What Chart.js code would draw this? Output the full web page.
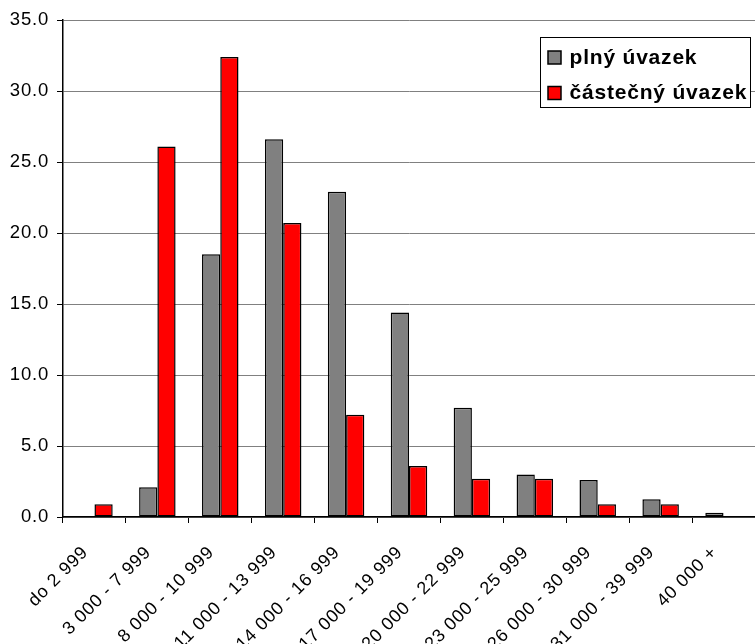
<!DOCTYPE html>
<html>
<head>
<meta charset="utf-8">
<script src="https://cdn.jsdelivr.net/npm/chart.js@4"></script>
<style>
  html, body { margin: 0; padding: 0; background: #fff; }
  canvas { display: block; }
</style>
</head>
<body>
<canvas id="mzdy" width="755" height="644"></canvas>
<script>
const categories = [
  "do 2 999", "3 000 - 7 999", "8 000 - 10 999", "11 000 - 13 999",
  "14 000 - 16 999", "17 000 - 19 999", "20 000 - 22 999", "23 000 - 25 999",
  "26 000 - 30 999", "31 000 - 39 999", "40 000 +"
];
const plnyUvazek = [0, 2.1, 18.5, 26.6, 22.9, 14.4, 7.7, 3.0, 2.6, 1.25, 0.3];
const castecnyUvazek = [0.9, 26.1, 32.4, 20.7, 7.2, 3.6, 2.7, 2.7, 0.9, 0.9, 0];
const seriesNames = ["plný úvazek", "částečný úvazek"];

const FONT = "'Liberation Sans', Arial, sans-serif";

// slightly looser text, set again before each layout (canvas resize resets it)
const spacing = {
  id: "spacing",
  beforeUpdate(chart) { chart.ctx.letterSpacing = "0.8px"; },
  beforeDraw(chart) { chart.ctx.letterSpacing = "0.8px"; }
};

// legend box in the upper right corner of the plot
const boxLegend = {
  id: "boxLegend",
  afterDraw(chart) {
    const ctx = chart.ctx;
    const x = 540.5, y = 37.5, w = 210, h = 70;
    ctx.save();
    ctx.fillStyle = "#fff";
    ctx.strokeStyle = "#000";
    ctx.lineWidth = 1;
    ctx.fillRect(x, y, w, h);
    ctx.strokeRect(x, y, w, h);
    ctx.font = "bold 21px " + FONT;
    ctx.letterSpacing = "0.8px";
    ctx.textBaseline = "middle";
    chart.data.datasets.forEach((ds, i) => {
      const cy = y + 19.5 + i * 35.5;
      ctx.fillStyle = ds.backgroundColor;
      ctx.fillRect(x + 7.5, cy - 6, 13, 13);
      ctx.lineWidth = 1.5;
      ctx.strokeRect(x + 7.5, cy - 6, 13, 13);
      ctx.fillStyle = "#000";
      ctx.fillText(ds.label, x + 29, cy + 1);
    });
    ctx.restore();
  }
};

new Chart(document.getElementById("mzdy"), {
  type: "bar",
  data: {
    labels: categories,
    datasets: [{
      label: seriesNames[0],
      data: plnyUvazek,
      backgroundColor: "#808080",
      borderColor: "#000",
      borderWidth: 1.5,
      borderSkipped: false,
      categoryPercentage: 0.58,
      barPercentage: 1
    }, {
      label: seriesNames[1],
      data: castecnyUvazek,
      backgroundColor: "#ff0000",
      borderColor: "#000",
      borderWidth: 1.5,
      borderSkipped: false,
      categoryPercentage: 0.58,
      barPercentage: 1
    }]
  },
  options: {
    responsive: false,
    animation: false,
    layout: { padding: { top: 20, right: 0, left: 0, bottom: 0 } },
    plugins: {
      legend: { display: false },
      tooltip: { enabled: false }
    },
    scales: {
      x: {
        afterFit(s) {
          s.height = 127;
          s.paddingLeft = 0;
          s.paddingRight = 0;
        },
        grid: { drawOnChartArea: false, drawTicks: true, tickLength: 6, color: "#000", offset: true },
        border: { color: "#000", width: 1.5 },
        ticks: {
          color: "#000",
          font: { family: FONT, size: 18 },
          minRotation: 45,
          maxRotation: 45,
          autoSkip: false,
          padding: 19,
          labelOffset: -9
        }
      },
      y: {
        min: 0,
        max: 35,
        afterFit(s) {
          s.width = 63;
          s.paddingTop = 0;
          s.paddingBottom = 0;
        },
        grid: { color: "#808080", tickColor: "#000", tickLength: 6 },
        border: { color: "#000", width: 1.5 },
        ticks: {
          stepSize: 5,
          color: "#000",
          font: { family: FONT, size: 18.5 },
          padding: 8,
          callback: v => v.toFixed(1)
        }
      }
    }
  },
  plugins: [spacing, boxLegend]
});
</script>
</body>
</html>
